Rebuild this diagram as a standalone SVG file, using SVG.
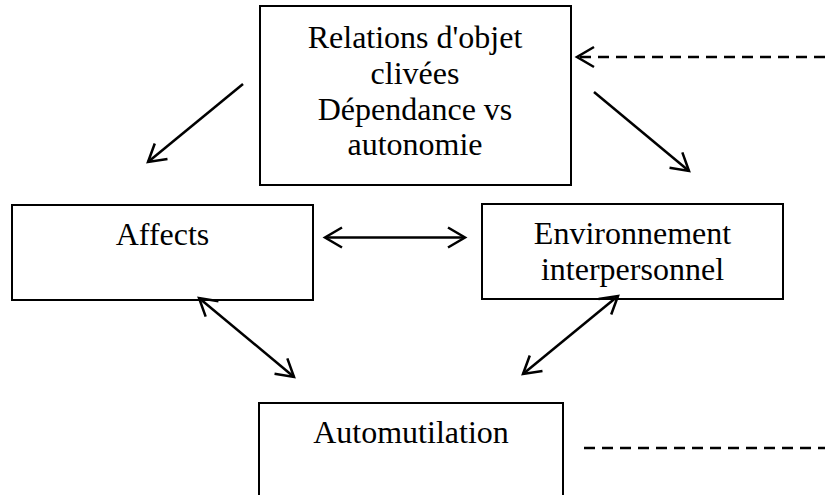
<svg xmlns="http://www.w3.org/2000/svg" width="825" height="495" viewBox="0 0 825 495">
<style>
.box{fill:#fff;stroke:#000;stroke-width:2}
.t{font-family:"Liberation Serif","Times New Roman",serif;font-size:32px;fill:#000;text-anchor:middle}
.c{stroke:#000;stroke-width:2.5;fill:none}
.d{stroke-dasharray:11 7}
</style>
<defs>
<marker id="ah" markerUnits="userSpaceOnUse" markerWidth="22" markerHeight="22" refX="17" refY="10" orient="auto-start-reverse" overflow="visible">
<path d="M0,0 L17,10 L0,20" fill="none" stroke="#000" stroke-width="2.5"/>
</marker>
</defs>
<rect width="825" height="495" fill="#fff"/>
<g id="n-relations">
<rect class="box" x="260" y="6" width="311" height="179"/>
<text class="t" x="415" y="48">Relations d'objet</text>
<text class="t" x="415" y="84">clivées</text>
<text class="t" x="415" y="120">Dépendance vs</text>
<text class="t" x="415" y="155">autonomie</text>
</g>
<g id="n-affects">
<rect class="box" x="12" y="205" width="301" height="95"/>
<text class="t" x="162.5" y="245">Affects</text>
</g>
<g id="n-environnement">
<rect class="box" x="482" y="204" width="301" height="95"/>
<text class="t" x="632.5" y="244">Environnement</text>
<text class="t" x="632.5" y="280">interpersonnel</text>
</g>
<g id="n-automutilation">
<rect class="box" x="259" y="403" width="304" height="110"/>
<text class="t" x="411" y="443">Automutilation</text>
</g>
<g id="connectors">
<line class="c d" x1="825" y1="57" x2="577" y2="57" marker-end="url(#ah)"/>
<line class="c" x1="243" y1="84" x2="148" y2="162" marker-end="url(#ah)"/>
<line class="c" x1="594" y1="92" x2="689" y2="171" marker-end="url(#ah)"/>
<line class="c" x1="325" y1="237.5" x2="465" y2="237.5" marker-start="url(#ah)" marker-end="url(#ah)"/>
<line class="c" x1="199" y1="298" x2="294" y2="377" marker-start="url(#ah)" marker-end="url(#ah)"/>
<line class="c" x1="618" y1="296" x2="523" y2="374" marker-start="url(#ah)" marker-end="url(#ah)"/>
<line class="c d" x1="584" y1="448" x2="825" y2="448"/>
</g>
</svg>
